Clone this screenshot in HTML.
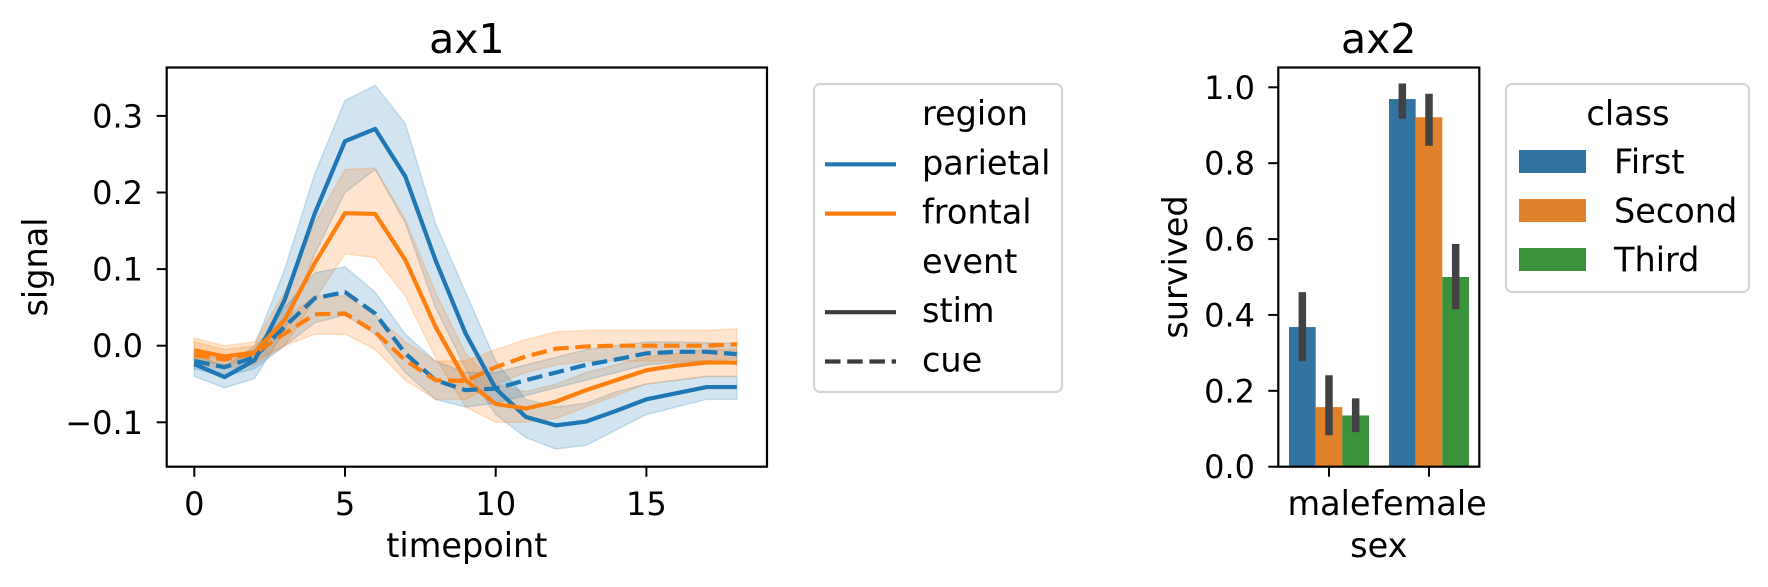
<!DOCTYPE html>
<html><head><meta charset="utf-8">
<style>
html,body{margin:0;padding:0;background:#fff;}
svg{display:block;font-family:"DejaVu Sans","Liberation Sans",sans-serif;}
</style></head>
<body>
<svg id="fig" width="1768" height="587" viewBox="0 0 1768 587" xmlns="http://www.w3.org/2000/svg"></svg>
<script>
// ---- ax1 data ----
const timepoints = [0,1,2,3,4,5,6,7,8,9,10,11,12,13,14,15,16,17,18];
const parietalStim = [-0.024,-0.041,-0.019,0.06,0.173,0.267,0.283,0.221,0.112,0.016,-0.056,-0.093,-0.104,-0.099,-0.085,-0.07,-0.062,-0.054,-0.054];
const parietalStimLo = [-0.04,-0.055,-0.043,0.02,0.12,0.2,0.23,0.16,0.05,-0.03,-0.09,-0.12,-0.135,-0.13,-0.11,-0.09,-0.08,-0.07,-0.07];
const parietalStimHi = [-0.01,-0.028,0.0,0.1,0.225,0.32,0.34,0.29,0.16,0.07,-0.02,-0.07,-0.08,-0.075,-0.06,-0.05,-0.045,-0.04,-0.04];
const frontalStim = [-0.006,-0.014,-0.009,0.034,0.108,0.173,0.172,0.112,0.025,-0.045,-0.076,-0.082,-0.073,-0.058,-0.045,-0.032,-0.026,-0.022,-0.022];
const frontalStimLo = [-0.02,-0.025,-0.02,0.0,0.06,0.12,0.115,0.065,-0.015,-0.08,-0.1,-0.1,-0.095,-0.08,-0.065,-0.05,-0.045,-0.04,-0.04];
const frontalStimHi = [0.01,0.0,0.005,0.07,0.16,0.23,0.232,0.165,0.07,-0.01,-0.05,-0.06,-0.05,-0.035,-0.025,-0.015,-0.01,-0.005,-0.005];
const parietalCue = [-0.02,-0.028,-0.015,0.025,0.062,0.07,0.042,-0.01,-0.045,-0.058,-0.056,-0.045,-0.035,-0.025,-0.018,-0.01,-0.008,-0.008,-0.011];
const parietalCueLo = [-0.03,-0.04,-0.03,0.0,0.03,0.04,0.015,-0.035,-0.07,-0.08,-0.075,-0.065,-0.055,-0.045,-0.035,-0.025,-0.022,-0.02,-0.025];
const parietalCueHi = [-0.01,-0.018,-0.005,0.05,0.095,0.103,0.07,0.015,-0.02,-0.035,-0.035,-0.025,-0.015,-0.005,0.0,0.005,0.005,0.004,0.003];
const frontalCue = [-0.012,-0.018,-0.01,0.016,0.041,0.042,0.018,-0.019,-0.045,-0.046,-0.028,-0.014,-0.004,-0.001,0.0,0.0,0.0,0.0,0.002];
const frontalCueLo = [-0.025,-0.03,-0.025,0.0,0.015,0.015,-0.005,-0.045,-0.07,-0.07,-0.05,-0.035,-0.025,-0.02,-0.02,-0.02,-0.02,-0.02,-0.017];
const frontalCueHi = [0.005,-0.005,0.0,0.035,0.065,0.065,0.04,0.005,-0.02,-0.02,-0.005,0.008,0.018,0.02,0.02,0.02,0.02,0.02,0.022];
const ax1XTicks = [0,5,10,15];
const ax1YTicks = [-0.1,0.0,0.1,0.2,0.3];
const ax1YTickLabels = ["\u22120.1","0.0","0.1","0.2","0.3"];
// ---- ax2 data ----
const sexCats = ["male","female"];
const classNames = ["First","Second","Third"];
const survFirst = [0.368,0.969];
const survSecond = [0.157,0.921];
const survThird = [0.135,0.5];
const errFirstLo = [0.278,0.917], errFirstHi = [0.46,1.01];
const errSecondLo = [0.083,0.846], errSecondHi = [0.241,0.983];
const errThirdLo = [0.091,0.415], errThirdHi = [0.18,0.587];
const ax2YTicks = [0.0,0.2,0.4,0.6,0.8,1.0];
const ax2YTickLabels = ["0.0","0.2","0.4","0.6","0.8","1.0"];

const NS="http://www.w3.org/2000/svg";
const svg=document.getElementById('fig');
function mk(tag,attrs,parent){const e=document.createElementNS(NS,tag);for(const k in attrs)e.setAttribute(k,attrs[k]);(parent||svg).appendChild(e);return e;}
function txt(s,attrs,parent){const e=mk('text',attrs,parent);e.textContent=s;return e;}

const TICK=32, LAB=33.5, TITLE=41, LEG=33.5;

// ---- ax1 scales ----
const A1={l:166.7,r:767,t:67.5,b:466.7};
const x1=t=>194.3+30.14*t;
const y1=v=>345.7-766*v;
const g1=mk('g',{});


const series=[
 {name:'parietal-stim',m:parietalStim,lo:parietalStimLo,hi:parietalStimHi,c:'#1f77b4',dash:null},
 {name:'frontal-stim',m:frontalStim,lo:frontalStimLo,hi:frontalStimHi,c:'#ff7f0e',dash:null},
 {name:'parietal-cue',m:parietalCue,lo:parietalCueLo,hi:parietalCueHi,c:'#1f77b4',dash:'15.5 6.7'},
 {name:'frontal-cue',m:frontalCue,lo:frontalCueLo,hi:frontalCueHi,c:'#ff7f0e',dash:'15.5 6.7'}];
series.forEach(s=>{
  let d='M'+timepoints.map((t,i)=>x1(t)+','+y1(s.hi[i])).join('L');
  d+='L'+timepoints.map((t,i)=>x1(t)+','+y1(s.lo[i])).reverse().join('L')+'Z';
  const band=mk('path',{d:d,fill:s.c,'fill-opacity':0.2,stroke:s.c,'stroke-opacity':0.2,'stroke-width':1.5},g1);
  
  
});
series.forEach(s=>{
  const d='M'+timepoints.map((t,i)=>x1(t)+','+y1(s.m[i])).join('L');
  const a={d:d,fill:'none',stroke:s.c,'stroke-width':4.2,'stroke-linejoin':'round'};
  if(s.dash)a['stroke-dasharray']=s.dash;
  const ln=mk('path',a,g1);
  
  
});
mk('rect',{x:A1.l,y:A1.t,width:A1.r-A1.l,height:A1.b-A1.t,fill:'none',stroke:'#000','stroke-width':2.2});
ax1XTicks.forEach(t=>{
  mk('line',{x1:x1(t),x2:x1(t),y1:A1.b,y2:A1.b+10,stroke:'#000','stroke-width':2});
  const e=txt(String(t),{x:x1(t),y:515,'font-size':TICK,'text-anchor':'middle'});
  
  
});
ax1YTicks.forEach((v,i)=>{
  mk('line',{x1:A1.l-10,x2:A1.l,y1:y1(v),y2:y1(v),stroke:'#000','stroke-width':2});
  const e=txt(ax1YTickLabels[i],{x:143,y:y1(v)+11.5,'font-size':TICK,'text-anchor':'end'});
  
  
});
let e;
e=txt('ax1',{x:(A1.l+A1.r)/2,y:53,'font-size':TITLE,'text-anchor':'middle'});

e=txt('timepoint',{x:(A1.l+A1.r)/2,y:557,'font-size':LAB,'text-anchor':'middle'});

e=txt('signal',{x:0,y:0,'font-size':LAB,'text-anchor':'middle',transform:'translate(47,267) rotate(-90)'});


// ax1 legend
const lg1=mk('g',{});


mk('rect',{x:814,y:84,width:248,height:308,rx:6,fill:'#fff',stroke:'#d6d6d6','stroke-width':2.2},lg1);
const legRows=[['region',null,null],['parietal','#1f77b4',null],['frontal','#ff7f0e',null],['event',null,null],['stim','#3b3b3b',null],['cue','#3b3b3b','15.5 6.7']];
legRows.forEach((r,i)=>{
  const cy=113+i*49.3;
  if(r[1]){const l=mk('line',{x1:825,x2:896,y1:cy+2,y2:cy+2,stroke:r[1],'stroke-width':4.2},lg1);if(r[2])l.setAttribute('stroke-dasharray',r[2]);
    }
  const t=txt(r[0],{x:922,y:cy+12,'font-size':LEG},lg1);
  
  
});

// ---- ax2 ----
const A2={l:1278.3,r:1479.3,t:67.5,b:466.7};
const y2=v=>466.7-379.4*v;
const xc=i=>1329+100*i;
const bw=26.67;
const bcol=['#3274a1','#e1812c','#3a923a'];
const vals=[survFirst,survSecond,survThird];
const los=[errFirstLo,errSecondLo,errThirdLo], his=[errFirstHi,errSecondHi,errThirdHi];
const g2=mk('g',{});


sexCats.forEach((s,i)=>{
  classNames.forEach((c,j)=>{
    const bx=xc(i)-1.5*bw+j*bw;
    const b=mk('rect',{x:bx,y:y2(vals[j][i]),width:bw,height:y2(0)-y2(vals[j][i]),fill:bcol[j]},g2);
    
    
  });
});
sexCats.forEach((s,i)=>{
  classNames.forEach((c,j)=>{
    const cx=xc(i)-bw+j*bw;
    const l=mk('line',{x1:cx,x2:cx,y1:y2(los[j][i]),y2:y2(his[j][i]),stroke:'#424242','stroke-width':7.5},g2);
    
    
  });
});
mk('rect',{x:A2.l,y:A2.t,width:A2.r-A2.l,height:A2.b-A2.t,fill:'none',stroke:'#000','stroke-width':2.2});
ax2YTicks.forEach((v,i)=>{
  mk('line',{x1:A2.l-10,x2:A2.l,y1:y2(v),y2:y2(v),stroke:'#000','stroke-width':2});
  const t=txt(ax2YTickLabels[i],{x:1255,y:y2(v)+11.5,'font-size':TICK,'text-anchor':'end'});
  
  
});
sexCats.forEach((s,i)=>{
  mk('line',{x1:xc(i),x2:xc(i),y1:A2.b,y2:A2.b+10,stroke:'#000','stroke-width':2});
  const t=txt(s,{x:xc(i),y:515,'font-size':LAB,'text-anchor':'middle'});
  
  
});
e=txt('ax2',{x:(A2.l+A2.r)/2,y:53,'font-size':TITLE,'text-anchor':'middle'});

e=txt('sex',{x:(A2.l+A2.r)/2,y:557,'font-size':LAB,'text-anchor':'middle'});

e=txt('survived',{x:0,y:0,'font-size':LAB,'text-anchor':'middle',transform:'translate(1187,267) rotate(-90)'});


const lg2=mk('g',{});


mk('rect',{x:1506,y:84,width:243,height:208,rx:6,fill:'#fff',stroke:'#d6d6d6','stroke-width':2.2},lg2);
e=txt('class',{x:1628,y:125,'font-size':LEG,'text-anchor':'middle'},lg2);

classNames.forEach((c,j)=>{
  const cy=161.5+j*49;
  const p=mk('rect',{x:1519,y:cy-11.5,width:67,height:23,fill:bcol[j]},lg2);
  
  
  const t=txt(c,{x:1614,y:cy+12,'font-size':LEG},lg2);
  
  
});
</script>
</body></html>
